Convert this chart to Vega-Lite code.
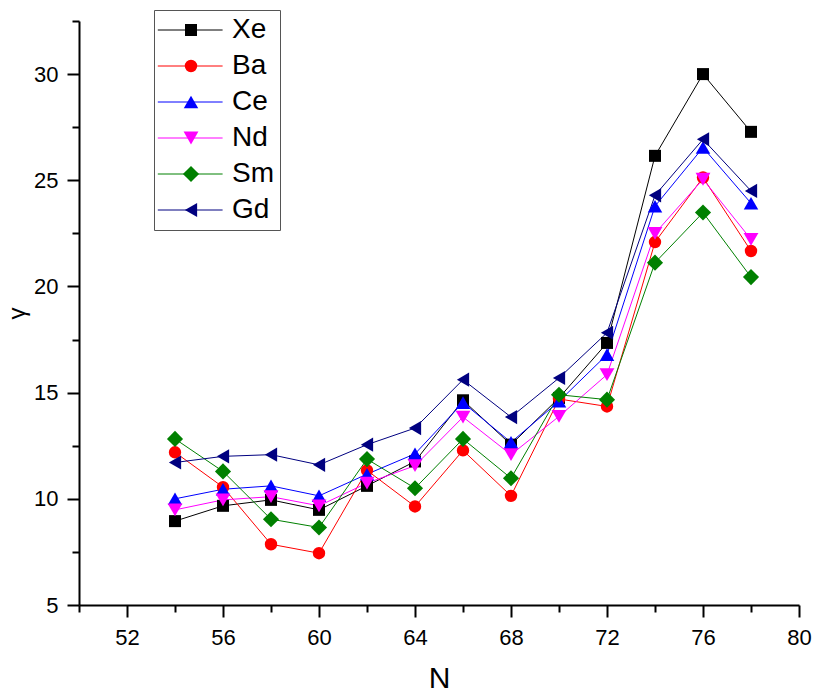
{
  "$schema": "https://vega.github.io/schema/vega-lite/v6.json",
  "width": 720,
  "height": 584,
  "autosize": {"type": "none"},
  "padding": {"left": 79, "top": 21, "right": 19, "bottom": 94},
  "background": "white",
  "config": {
    "view": {"stroke": null},
    "font": "Liberation Sans",
    "axis": {
      "grid": false,
      "domainColor": "black",
      "domainWidth": 2,
      "tickColor": "black",
      "tickWidth": 2,
      "labelColor": "black",
      "titleColor": "black",
      "labelFont": "Liberation Sans",
      "titleFont": "Liberation Sans",
      "labelFontSize": 22,
      "titleFontWeight": "normal",
      "labelOverlap": false,
      "labelFlush": false
    }
  },
  "data": {
    "values": [
      {"N": 54, "el": "Xe", "g": 8.95}, {"N": 56, "el": "Xe", "g": 9.67}, {"N": 58, "el": "Xe", "g": 9.95}, {"N": 60, "el": "Xe", "g": 9.48}, {"N": 62, "el": "Xe", "g": 10.61}, {"N": 64, "el": "Xe", "g": 11.76}, {"N": 66, "el": "Xe", "g": 14.64}, {"N": 68, "el": "Xe", "g": 12.55}, {"N": 70, "el": "Xe", "g": 14.75}, {"N": 72, "el": "Xe", "g": 17.34}, {"N": 74, "el": "Xe", "g": 26.15}, {"N": 76, "el": "Xe", "g": 30.0}, {"N": 78, "el": "Xe", "g": 27.28},
      {"N": 54, "el": "Ba", "g": 12.19}, {"N": 56, "el": "Ba", "g": 10.55}, {"N": 58, "el": "Ba", "g": 7.86}, {"N": 60, "el": "Ba", "g": 7.44}, {"N": 62, "el": "Ba", "g": 11.34}, {"N": 64, "el": "Ba", "g": 9.64}, {"N": 66, "el": "Ba", "g": 12.28}, {"N": 68, "el": "Ba", "g": 10.14}, {"N": 70, "el": "Ba", "g": 14.7}, {"N": 72, "el": "Ba", "g": 14.35}, {"N": 74, "el": "Ba", "g": 22.09}, {"N": 76, "el": "Ba", "g": 25.13}, {"N": 78, "el": "Ba", "g": 21.67},
      {"N": 54, "el": "Ce", "g": 10.0}, {"N": 56, "el": "Ce", "g": 10.45}, {"N": 58, "el": "Ce", "g": 10.61}, {"N": 60, "el": "Ce", "g": 10.14}, {"N": 62, "el": "Ce", "g": 11.16}, {"N": 64, "el": "Ce", "g": 12.12}, {"N": 66, "el": "Ce", "g": 14.53}, {"N": 68, "el": "Ce", "g": 12.66}, {"N": 70, "el": "Ce", "g": 14.59}, {"N": 72, "el": "Ce", "g": 16.79}, {"N": 74, "el": "Ce", "g": 23.78}, {"N": 76, "el": "Ce", "g": 26.54}, {"N": 78, "el": "Ce", "g": 23.92},
      {"N": 54, "el": "Nd", "g": 9.48}, {"N": 56, "el": "Nd", "g": 9.95}, {"N": 58, "el": "Nd", "g": 10.1}, {"N": 60, "el": "Nd", "g": 9.67}, {"N": 62, "el": "Nd", "g": 10.74}, {"N": 64, "el": "Nd", "g": 11.56}, {"N": 66, "el": "Nd", "g": 13.85}, {"N": 68, "el": "Nd", "g": 12.08}, {"N": 70, "el": "Nd", "g": 13.88}, {"N": 72, "el": "Nd", "g": 15.85}, {"N": 74, "el": "Nd", "g": 22.5}, {"N": 76, "el": "Nd", "g": 25.05}, {"N": 78, "el": "Nd", "g": 22.22},
      {"N": 54, "el": "Sm", "g": 12.82}, {"N": 56, "el": "Sm", "g": 11.29}, {"N": 58, "el": "Sm", "g": 9.04}, {"N": 60, "el": "Sm", "g": 8.65}, {"N": 62, "el": "Sm", "g": 11.87}, {"N": 64, "el": "Sm", "g": 10.5}, {"N": 66, "el": "Sm", "g": 12.82}, {"N": 68, "el": "Sm", "g": 10.97}, {"N": 70, "el": "Sm", "g": 14.9}, {"N": 72, "el": "Sm", "g": 14.67}, {"N": 74, "el": "Sm", "g": 21.12}, {"N": 76, "el": "Sm", "g": 23.48}, {"N": 78, "el": "Sm", "g": 20.44},
      {"N": 54, "el": "Gd", "g": 11.71}, {"N": 56, "el": "Gd", "g": 12.0}, {"N": 58, "el": "Gd", "g": 12.08}, {"N": 60, "el": "Gd", "g": 11.6}, {"N": 62, "el": "Gd", "g": 12.55}, {"N": 64, "el": "Gd", "g": 13.33}, {"N": 66, "el": "Gd", "g": 15.61}, {"N": 68, "el": "Gd", "g": 13.85}, {"N": 70, "el": "Gd", "g": 15.69}, {"N": 72, "el": "Gd", "g": 17.82}, {"N": 74, "el": "Gd", "g": 24.29}, {"N": 76, "el": "Gd", "g": 26.93}, {"N": 78, "el": "Gd", "g": 24.5}
    ]
  },
  "layer": [
    {
      "mark": {"type": "line", "strokeWidth": 1},
      "encoding": {
        "x": {
          "field": "N", "type": "quantitative",
          "scale": {"domain": [50, 80], "nice": false, "zero": false},
          "axis": {
            "title": "N",
            "values": [50, 52, 54, 56, 58, 60, 62, 64, 66, 68, 70, 72, 74, 76, 78, 80],
            "labelExpr": "datum.value % 4 === 0 && datum.value > 50 ? datum.label : ''",
            "tickSize": {"condition": {"test": "datum.value % 4 === 0", "value": 12}, "value": 7},
            "labelPadding": 10,
            "titleFontSize": 30,
            "titlePadding": 15
          }
        },
        "y": {
          "field": "g", "type": "quantitative",
          "scale": {"domain": [5, 32.5], "nice": false, "zero": false},
          "axis": {
            "title": "γ",
            "values": [5, 7.5, 10, 12.5, 15, 17.5, 20, 22.5, 25, 27.5, 30, 32.5],
            "labelExpr": "datum.value % 5 === 0 ? datum.label : ''",
            "tickSize": {"condition": {"test": "datum.value % 5 === 0", "value": 12}, "value": 7},
            "labelPadding": 9,
            "titleFontSize": 24,
            "titlePadding": 4
          }
        },
        "stroke": {
          "field": "el", "type": "nominal",
          "scale": {"domain": ["Xe", "Ba", "Ce", "Nd", "Sm", "Gd"], "range": ["#000000", "#FF0000", "#0000FF", "#FF00FF", "#008000", "#000080"]},
          "legend": {
            "title": null,
            "orient": "none",
            "legendX": 75,
            "legendY": -11,
            "symbolType": "M-2.7,0H8.1",
            "symbolSize": 144,
            "symbolStrokeWidth": 1,
            "labelFontSize": 28,
            "labelFont": "Liberation Sans",
            "labelColor": "black",
            "labelOffset": 44,
            "rowPadding": 8,
            "padding": 6,
            "strokeColor": "#555555"
          }
        }
      }
    },
    {
      "mark": {"type": "point", "filled": true, "opacity": 1, "strokeWidth": 0},
      "encoding": {
        "x": {"field": "N", "type": "quantitative"},
        "y": {"field": "g", "type": "quantitative"},
        "fill": {
          "field": "el", "type": "nominal", "sort": null,
          "scale": {"range": ["#000000", "#FF0000", "#0000FF", "#FF00FF", "#008000", "#000080"]},
          "legend": {
            "title": null, "orient": "none", "legendX": 92, "legendY": -11,
            "labelFontSize": 28, "labelExpr": "''", "labelOpacity": 0, "rowPadding": 8, "padding": 6,
            "symbolStrokeWidth": 0, "symbolOpacity": 1
          }
        },
        "shape": {
          "field": "el", "type": "nominal", "sort": null,
          "scale": {"range": ["square", "circle", "triangle-up", "triangle-down", "diamond", "triangle-left"]},
          "legend": {
            "title": null, "orient": "none", "legendX": 92, "legendY": -11,
            "labelFontSize": 28, "labelExpr": "''", "labelOpacity": 0, "rowPadding": 8, "padding": 6,
            "symbolStrokeWidth": 0, "symbolOpacity": 1
          }
        },
        "size": {
          "field": "el", "type": "nominal", "sort": null,
          "scale": {"type": "ordinal", "range": [144, 154, 210, 220, 260, 200]},
          "legend": {
            "title": null, "orient": "none", "legendX": 92, "legendY": -11,
            "labelFontSize": 28, "labelExpr": "''", "labelOpacity": 0, "rowPadding": 8, "padding": 6,
            "symbolStrokeWidth": 0, "symbolOpacity": 1
          }
        }
      }
    }
  ]
}
